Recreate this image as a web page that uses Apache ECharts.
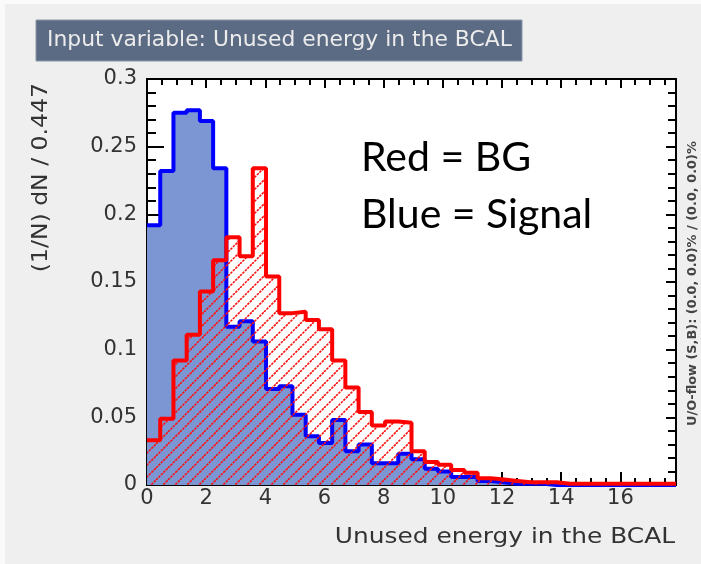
<!DOCTYPE html>
<html>
<head>
<meta charset="utf-8">
<script src="https://cdn.jsdelivr.net/npm/echarts@6/dist/echarts.min.js"></script>
<style>
  html, body { margin: 0; padding: 0; background: #fff; }
  #main { width: 701px; height: 564px; background: #efefef; box-shadow: inset 5px 4px 0 #fafafa; }
</style>
</head>
<body>
<div id="main"></div>
<script>
// 40 bins of width 0.447 from 0 to 17.88
var binWidth = 0.447
var xMax = 17.88

// signal (blue, filled)
var signal = [
  0.192, 0.232, 0.275, 0.277, 0.269, 0.234, 0.117, 0.121, 0.106, 0.071,
  0.073, 0.052, 0.036, 0.031, 0.048, 0.025, 0.030, 0.016, 0.016, 0.023,
  0.019, 0.012, 0.010, 0.006, 0.006, 0.003, 0.002, 0.001, 0.001, 0.001,
  0, 0, 0, 0, 0, 0, 0, 0, 0, 0
]

// background (red, hatched)
var background = [
  0.033, 0.049, 0.092, 0.111, 0.143, 0.166, 0.183, 0.169, 0.234, 0.154,
  0.127, 0.128, 0.122, 0.115, 0.092, 0.072, 0.054, 0.044, 0.047, 0.046,
  0.025, 0.017, 0.015, 0.011, 0.009, 0.005, 0.004, 0.003, 0.002, 0.002,
  0.002, 0.001, 0.001, 0.001, 0.001, 0.001, 0.001, 0.001, 0.001, 0.001
]

var titleText = 'Input variable: Unused energy in the BCAL'
var xTitle = 'Unused energy in the BCAL'
var yTitle = '(1/N) dN / 0.447'
var flowText = 'U/O-flow (S,B): (0.0, 0.0)% / (0.0, 0.0)%'
var noteLines = ['Red = BG', 'Blue = Signal']

function toSteps (values) {
  var pts = values.map(function (v, i) { return [+(i * binWidth).toFixed(3), v] })
  pts.push([xMax, values[values.length - 1]])
  return pts
}

// red diagonal hatch tile
function makeHatch () {
  var s = 12
  var c = document.createElement('canvas')
  c.width = s
  c.height = s
  var ctx = c.getContext('2d')
  ctx.strokeStyle = '#ff1010'
  ctx.lineWidth = 1.6
  ctx.setLineDash([2.5, 1])
  for (var k = -1; k <= 1; k++) {
    ctx.beginPath()
    ctx.moveTo(k * s, s)
    ctx.lineTo(k * s + s, 0)
    ctx.stroke()
  }
  return c
}

var chartDom = document.getElementById('main')
var myChart = echarts.init(chartDom)
var option

var tickLine = { color: '#000', width: 2 }
var labelFont = { fontSize: 21, fontFamily: 'DejaVu Sans', color: '#333' }

option = {
  animation: false,
  grid: {
    left: 147,
    top: 79,
    right: 25,
    bottom: 79,
    show: true,
    backgroundColor: '#fff',
    borderColor: '#000',
    borderWidth: 2
  },
  xAxis: [
    {
      type: 'value',
      min: 0,
      max: xMax,
      interval: 2,
      position: 'bottom',
      axisLine: { show: true, onZero: false, lineStyle: tickLine },
      axisTick: { show: true, inside: true, length: 13, lineStyle: tickLine },
      minorTick: { show: true, splitNumber: 4, length: 7, lineStyle: tickLine },
      axisLabel: Object.assign({ margin: 3, showMaxLabel: false }, labelFont),
      splitLine: { show: false }
    },
    {
      type: 'value',
      min: 0,
      max: xMax,
      interval: 2,
      position: 'top',
      axisLine: { show: true, onZero: false, lineStyle: tickLine },
      axisTick: { show: true, inside: true, length: 9, lineStyle: tickLine },
      minorTick: { show: true, splitNumber: 4, length: 6, lineStyle: tickLine },
      axisLabel: { show: false },
      splitLine: { show: false }
    }
  ],
  yAxis: [
    {
      type: 'value',
      min: 0,
      max: 0.3,
      interval: 0.05,
      position: 'left',
      axisLine: { show: true, onZero: false, lineStyle: tickLine },
      axisTick: { show: true, inside: true, length: 17, lineStyle: tickLine },
      minorTick: { show: true, splitNumber: 5, length: 9, lineStyle: tickLine },
      axisLabel: Object.assign({ margin: 10 }, labelFont),
      splitLine: { show: false }
    },
    {
      type: 'value',
      min: 0,
      max: 0.3,
      interval: 0.05,
      position: 'right',
      axisLine: { show: true, onZero: false, lineStyle: tickLine },
      axisTick: { show: true, inside: true, length: 10, lineStyle: tickLine },
      minorTick: { show: true, splitNumber: 5, length: 8, lineStyle: tickLine },
      axisLabel: { show: false },
      splitLine: { show: false }
    }
  ],
  series: [
    {
      name: 'Signal',
      type: 'line',
      step: 'end',
      symbol: 'none',
      xAxisIndex: 0,
      yAxisIndex: 0,
      data: toSteps(signal),
      lineStyle: { color: '#0000ff', width: 4 },
      itemStyle: { color: '#0000ff' },
      areaStyle: { color: '#7b96d3', opacity: 1 },
      z: 2
    },
    {
      name: 'BG',
      type: 'line',
      step: 'end',
      symbol: 'none',
      xAxisIndex: 0,
      yAxisIndex: 0,
      data: toSteps(background),
      lineStyle: { color: '#ff0000', width: 4 },
      itemStyle: { color: '#ff0000' },
      areaStyle: { color: { image: makeHatch(), repeat: 'repeat' }, opacity: 1 },
      z: 3
    }
  ],
  graphic: [
    {
      type: 'rect',
      shape: { x: 36, y: 20, width: 486, height: 41 },
      style: { fill: '#5c6b84', stroke: '#8a97aa', lineWidth: 1 }
    },
    {
      type: 'text',
      x: 47,
      y: 41,
      scaleX: 1.04,
      style: {
        text: titleText,
        font: '21px "DejaVu Sans"',
        fill: '#ececec',
        verticalAlign: 'middle',
        textVerticalAlign: 'middle'
      }
    },
    {
      type: 'text',
      x: 675,
      y: 537,
      scaleX: 1.13,
      style: {
        text: xTitle,
        font: '22px "DejaVu Sans"',
        fill: '#333',
        align: 'right',
        textAlign: 'right',
        verticalAlign: 'middle',
        textVerticalAlign: 'middle'
      }
    },
    {
      type: 'text',
      x: 41,
      y: 83,
      rotation: Math.PI / 2,
      scaleX: 1.07,
      style: {
        text: yTitle,
        font: '22px "DejaVu Sans"',
        fill: '#333',
        align: 'right',
        textAlign: 'right',
        verticalAlign: 'middle',
        textVerticalAlign: 'middle'
      }
    },
    {
      type: 'text',
      x: 693,
      y: 426,
      rotation: Math.PI / 2,
      scaleX: 1.03,
      style: {
        text: flowText,
        font: 'bold 12.5px "DejaVu Sans"',
        fill: '#444',
        align: 'left',
        textAlign: 'left',
        verticalAlign: 'middle',
        textVerticalAlign: 'middle'
      }
    },
    {
      type: 'text',
      x: 361,
      y: 158,
      z: 10,
      style: {
        text: noteLines[0],
        font: '41px Lato',
        fill: '#000',
        verticalAlign: 'middle',
        textVerticalAlign: 'middle'
      }
    },
    {
      type: 'text',
      x: 361,
      y: 215,
      z: 10,
      style: {
        text: noteLines[1],
        font: '41px Lato',
        fill: '#000',
        verticalAlign: 'middle',
        textVerticalAlign: 'middle'
      }
    }
  ]
}

option && myChart.setOption(option)
</script>
</body>
</html>
